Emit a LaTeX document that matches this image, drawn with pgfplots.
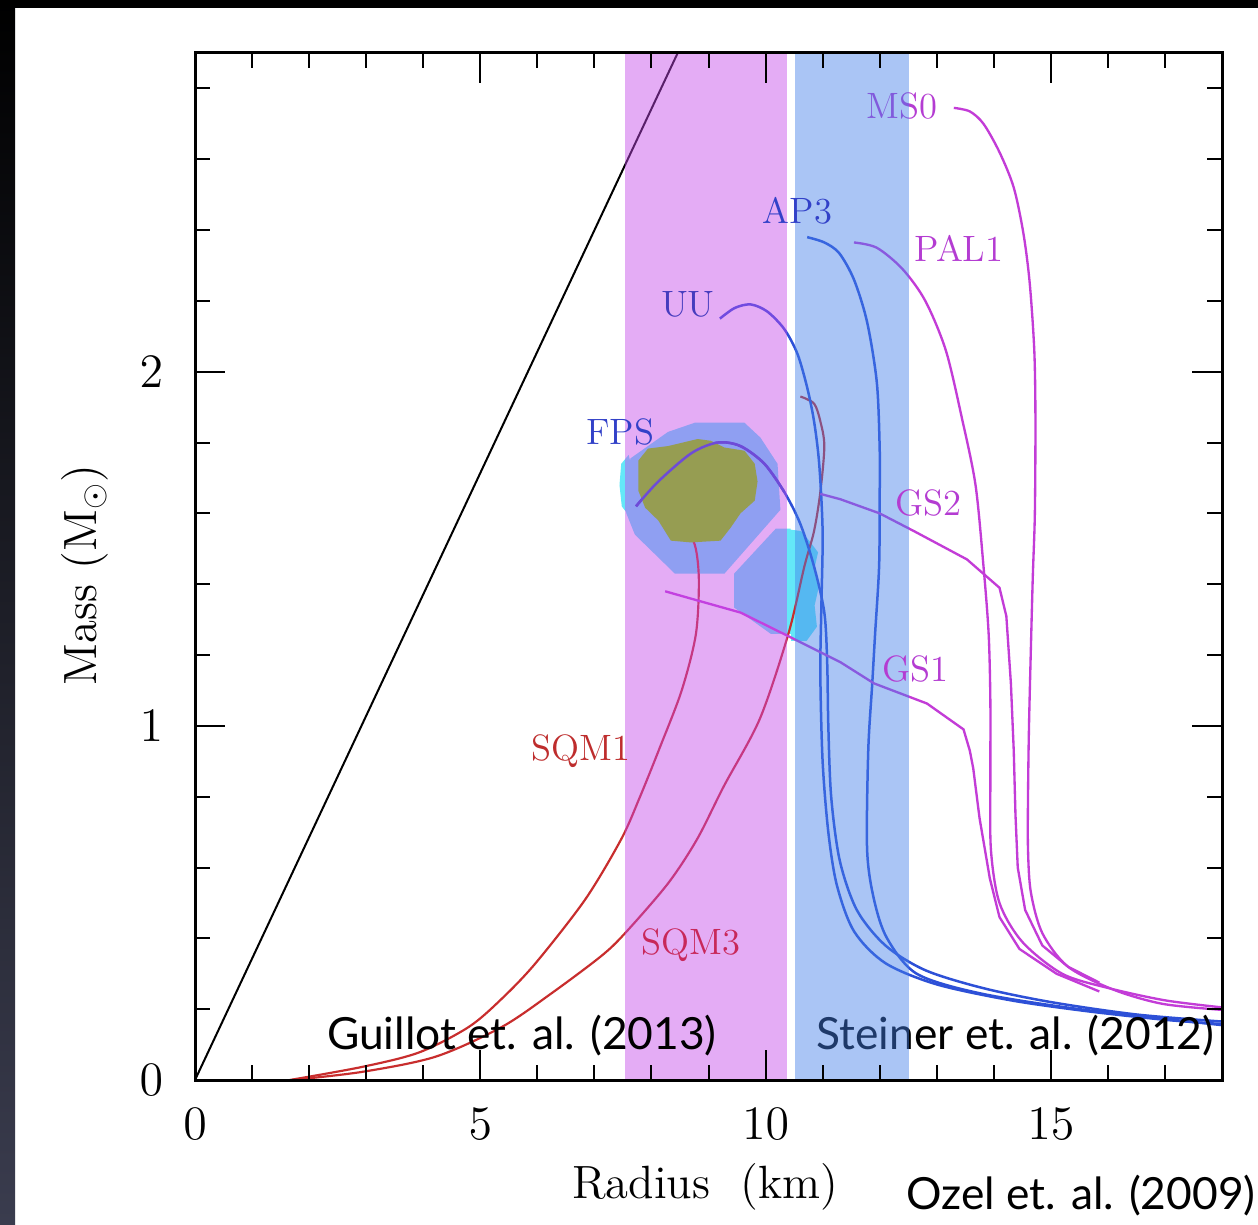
\documentclass[border=0pt]{standalone}
\usepackage{pgfplots}
\pgfplotsset{compat=1.18}
\usepackage{fontspec}
\newfontfamily\lato{Lato}
\definecolor{magband}{RGB}{196,71,235}
\definecolor{bluband}{RGB}{68,127,233}
\definecolor{cyanblob}{RGB}{100,232,248}
\definecolor{olivec}{RGB}{150,157,82}
\definecolor{cblue}{RGB}{45,80,215}
\definecolor{fpstint}{RGB}{110,75,215}
\definecolor{cmag}{RGB}{195,60,215}
\definecolor{cred}{RGB}{200,45,45}
\definecolor{bgbot}{RGB}{58,60,78}
\definecolor{lblmag}{RGB}{180,60,210}
\definecolor{lblblue}{RGB}{50,65,200}
\definecolor{lbluu}{RGB}{70,60,190}
\definecolor{lblred}{RGB}{190,45,45}
\definecolor{lblsqm}{RGB}{200,40,90}
\begin{document}
\begin{tikzpicture}
\path[use as bounding box] (0,0) rectangle (377.4pt,367.2pt);
\fill[white] (0,0) rectangle (377.4pt,367.2pt);
\shade[top color=black,bottom color=bgbot] (0,0) rectangle (4.5pt,367.2pt);
\fill[black] (0,364.8pt) rectangle (377.4pt,367.2pt);
\begin{axis}[
  at={(58.5pt,43.2pt)}, anchor=south west,
  scale only axis, width=308.1pt, height=308.1pt,
  xmin=0, xmax=18, ymin=0, ymax=2.9,
  clip=false, axis on top,
  xtick={0,5,10,15}, ytick={0,1,2},
  minor xtick={1,2,3,4,6,7,8,9,11,12,13,14,16,17},
  minor ytick={0.2,0.4,0.6,0.8,1.2,1.4,1.6,1.8,2.2,2.4,2.6,2.8},
  tick align=inside, major tick length=9pt, minor tick length=4.5pt,
  tick style={black, line width=0.6pt},
  axis line style={line width=0.9pt},
  ticklabel style={font=\fontsize{13.5}{14}\selectfont},
  xticklabel style={yshift=-5pt},
  yticklabel style={xshift=-6pt},
  xlabel={Radius~~(km)}, ylabel={Mass~(M$_\odot$)},
  label style={font=\fontsize{14}{16}\selectfont},
  xlabel style={at={(axis description cs:0.497,-0.104)}, anchor=center},
  ylabel style={at={(axis description cs:-0.107,0.492)}, anchor=center},
]
% --- Ozel et al. (2009) contours (cyan) ---
\addplot[draw=none, fill=cyanblob] coordinates {(8.76,1.856) (9.63,1.856) (9.91,1.814) (10.21,1.74) (10.26,1.61) (9.28,1.43) (8.41,1.43) (7.71,1.54) (7.56,1.60) (7.63,1.755) (8.29,1.83)} -- cycle;
\addplot[draw=none, fill=cyanblob] coordinates {(7.48,1.62) (7.62,1.59) (7.7,1.7) (7.6,1.765) (7.47,1.74) (7.44,1.68)} -- cycle;
\addplot[draw=none, fill=cyanblob] coordinates {(9.45,1.43) (10.18,1.557) (10.44,1.557) (10.5,1.26) (10.09,1.26) (9.45,1.334)} -- cycle;
\addplot[draw=none, fill=cyanblob] coordinates {(10.4,1.555) (10.62,1.55) (10.78,1.52) (10.92,1.49) (10.85,1.44) (10.93,1.39) (10.86,1.34) (10.9,1.28) (10.72,1.24) (10.45,1.24)} -- cycle;
% --- Schwarzschild line ---
\addplot[black, line width=0.6pt] coordinates {(0,0) (8.46,2.9)};
% --- strange quark matter ---
\addplot[cred, line width=0.65pt, smooth, tension=0.5] coordinates {(1.66,0) (2.93,0.037) (3.93,0.078) (4.80,0.15) (5.38,0.23) (5.97,0.33) (6.84,0.51) (7.47,0.68) (7.8,0.8) (8.15,0.94) (8.53,1.10) (8.78,1.26) (8.83,1.42) (8.74,1.52) (8.46,1.55)};
\addplot[cred, line width=0.65pt, smooth, tension=0.5] coordinates {(1.70,0) (2.93,0.023) (4.22,0.066) (5.38,0.15) (6.25,0.245) (7.12,0.35) (7.54,0.415) (8.29,0.555) (8.8,0.68) (9.27,0.83) (9.90,1.02) (10.40,1.26) (10.68,1.45) (10.85,1.55) (10.96,1.66) (11.03,1.79) (10.96,1.86) (10.85,1.91) (10.61,1.93)};
% --- nucleonic EOS (blue) ---
\addplot[cblue, line width=0.75pt, smooth, tension=0.5] coordinates {(7.73,1.62) (8.12,1.69) (8.7,1.77) (9.16,1.80) (9.56,1.79) (9.98,1.74) (10.33,1.66) (10.61,1.57) (10.85,1.45) (11.03,1.32) (11.08,1.18) (11.1,1.0) (11.15,0.8) (11.3,0.62) (11.6,0.48) (12.1,0.38) (12.8,0.31) (13.8,0.26) (15.0,0.22) (16.5,0.185) (18,0.165)};
\addplot[cblue, line width=0.75pt, smooth, tension=0.5] coordinates {(9.2,2.15) (9.46,2.18) (9.74,2.19) (10.03,2.17) (10.33,2.12) (10.56,2.05) (10.73,1.955) (10.85,1.86) (10.94,1.74) (11.0,1.55) (10.98,1.35) (10.96,1.15) (11.0,0.9) (11.1,0.7) (11.25,0.55) (11.55,0.42) (12.1,0.33) (13.0,0.27) (14.3,0.225) (15.6,0.195) (17,0.17) (18,0.158)};
\addplot[cblue, line width=0.75pt, smooth, tension=0.5] coordinates {(10.73,2.38) (11.03,2.365) (11.29,2.335) (11.55,2.26) (11.78,2.14) (11.95,1.97) (12.0,1.785) (12.0,1.64) (11.99,1.45) (11.92,1.26) (11.87,1.12) (11.8,0.93) (11.78,0.65) (11.9,0.51) (12.13,0.40) (12.65,0.30) (13.75,0.245) (15.5,0.20) (18,0.155)};
% --- magenta EOS ---
\addplot[cmag, line width=0.7pt, smooth, tension=0.5] coordinates {(11.55,2.365) (11.95,2.35) (12.4,2.29) (12.8,2.2) (13.16,2.06) (13.44,1.87) (13.68,1.68) (13.82,1.45) (13.91,1.26) (13.94,1.07) (13.94,0.85) (13.95,0.65) (14.1,0.5) (14.5,0.39) (15.2,0.30) (16.0,0.26) (17,0.225) (18,0.205)};
\addplot[cmag, line width=0.7pt, smooth, tension=0.5] coordinates {(13.3,2.745) (13.58,2.735) (13.82,2.70) (14.1,2.62) (14.35,2.52) (14.52,2.39) (14.63,2.25) (14.71,2.06) (14.73,1.87) (14.72,1.6) (14.68,1.40) (14.62,1.02) (14.6,0.8) (14.6,0.65) (14.65,0.53) (14.85,0.415) (15.3,0.32) (16.1,0.255) (16.96,0.215) (18,0.198)};
\addplot[cmag, line width=0.7pt] coordinates {(10.96,1.655) (11.31,1.64) (12.0,1.60) (12.6,1.55) (13.53,1.47) (14.1,1.39) (14.22,1.31) (14.3,1.12) (14.35,0.93) (14.38,0.75) (14.42,0.6) (14.55,0.48) (14.85,0.38) (15.3,0.32) (15.85,0.275)};
\addplot[cmag, line width=0.7pt] coordinates {(8.24,1.38) (8.81,1.354) (9.56,1.32) (10.44,1.25) (11.31,1.18) (11.9,1.12) (12.83,1.063) (13.47,0.99) (13.58,0.93) (13.64,0.88) (13.75,0.74) (13.93,0.57) (14.1,0.46) (14.45,0.37) (15.1,0.30) (15.85,0.25)};
% --- Guillot et al. (2013) band ---
\addplot[draw=none, fill=magband, fill opacity=0.45] coordinates {(7.54,0) (10.37,0) (10.37,2.9) (7.54,2.9)} -- cycle;
% olive contour and the FPS line over it
\addplot[draw=none, fill=olivec] coordinates {(7.77,1.749) (7.94,1.783) (8.29,1.79) (8.81,1.81) (9.04,1.805) (9.28,1.786) (9.63,1.777) (9.81,1.74) (9.86,1.69) (9.81,1.636) (9.56,1.60) (9.39,1.56) (9.21,1.523) (8.69,1.518) (8.34,1.523) (8.12,1.58) (7.89,1.616) (7.77,1.664)} -- cycle;
\addplot[fpstint, line width=0.75pt, smooth, tension=0.5] coordinates {(7.73,1.62) (8.12,1.69) (8.7,1.77) (9.16,1.80) (9.56,1.79) (9.98,1.74) (10.33,1.66)};
% labels under the blue band
\node[text=lblmag, font=\fontsize{11}{11}\selectfont] at (axis cs:12.39,2.75) {MS0};
\node[anchor=base, inner sep=0pt, font=\lato\fontsize{13.3}{15}\selectfont] at (axis cs:14.38,0.085) {Steiner et. al. (2012)};
% --- Steiner et al. (2012) band ---
\addplot[draw=none, fill=bluband, fill opacity=0.45] coordinates {(10.51,0) (12.51,0) (12.51,2.9) (10.51,2.9)} -- cycle;
% --- curve labels ---
\node[text=lblblue, font=\fontsize{11}{11}\selectfont] at (axis cs:10.56,2.454) {AP3};
\node[text=lblmag, font=\fontsize{11}{11}\selectfont] at (axis cs:13.39,2.347) {PAL1};
\node[text=lbluu, font=\fontsize{11}{11}\selectfont] at (axis cs:8.64,2.19) {UU};
\node[text=lblblue, font=\fontsize{11}{11}\selectfont] at (axis cs:7.45,1.83) {FPS};
\node[text=lblmag, font=\fontsize{11}{11}\selectfont] at (axis cs:12.86,1.63) {GS2};
\node[text=lblmag, font=\fontsize{11}{11}\selectfont] at (axis cs:12.62,1.162) {GS1};
\node[text=lblred, font=\fontsize{11}{11}\selectfont] at (axis cs:6.77,0.93) {SQM1};
\node[text=lblsqm, font=\fontsize{11}{11}\selectfont] at (axis cs:8.69,0.38) {SQM3};
\node[anchor=base, inner sep=0pt, font=\lato\fontsize{13.3}{15}\selectfont] at (axis cs:5.73,0.085) {Guillot et. al. (2013)};
\node[anchor=base, inner sep=0pt, font=\lato\fontsize{13.3}{15}\selectfont] at (axis cs:15.53,-0.367) {Ozel et. al. (2009)};
\end{axis}
\end{tikzpicture}
\end{document}
